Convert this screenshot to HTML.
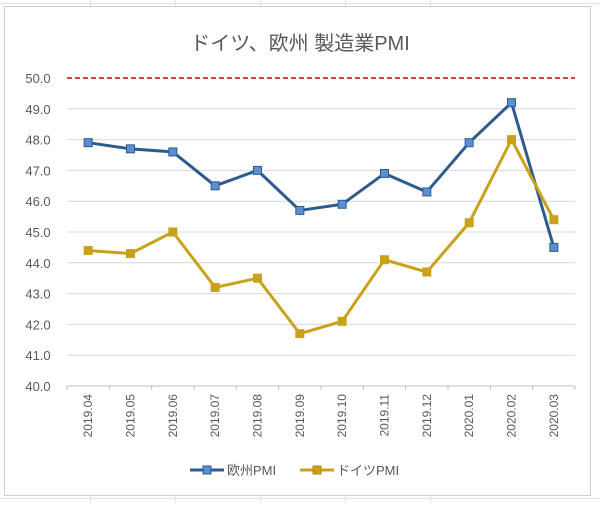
<!DOCTYPE html>
<html><head><meta charset="utf-8"><style>
body{margin:0;background:#fff;}
svg text{font-family:"Liberation Sans","Noto Sans CJK JP",sans-serif;}
</style></head><body>
<svg width="600" height="502" viewBox="0 0 600 502">
<g stroke="#d8e4ea" stroke-width="1">
<line x1="0" y1="3.5" x2="600" y2="3.5"/><line x1="0" y1="498.5" x2="600" y2="498.5"/>
<line x1="90.5" y1="0" x2="90.5" y2="6"/><line x1="175.5" y1="0" x2="175.5" y2="6"/><line x1="260.5" y1="0" x2="260.5" y2="6"/><line x1="345.5" y1="0" x2="345.5" y2="6"/><line x1="430.5" y1="0" x2="430.5" y2="6"/>
<line x1="90.5" y1="496" x2="90.5" y2="502"/><line x1="175.5" y1="496" x2="175.5" y2="502"/><line x1="260.5" y1="496" x2="260.5" y2="502"/><line x1="345.5" y1="496" x2="345.5" y2="502"/><line x1="430.5" y1="496" x2="430.5" y2="502"/>
</g>
<rect x="4.5" y="6.5" width="586" height="489" fill="#fff" stroke="#c9d3d8"/>
<text x="300" y="50" text-anchor="middle" font-size="20" fill="#595959">ドイツ、欧州 製造業PMI</text>
<g id="grid"></g><g id="yl"></g><g id="xl"></g><g id="series"></g>
<g font-size="13" fill="#595959">
<g><line x1="190" y1="470" x2="224" y2="470" stroke="#2e5b8e" stroke-width="3"/><rect x="203" y="466" width="8" height="8" fill="#5b8fcf" stroke="#2e5b8e"/><text x="227" y="475">欧州PMI</text></g>
<g><line x1="300" y1="470" x2="334" y2="470" stroke="#c9a21a" stroke-width="3"/><rect x="313" y="466" width="8" height="8" fill="#c9a21a" stroke="#b08a10"/><text x="337" y="475">ドイツPMI</text></g>
</g>
</svg>
<script>
const categories=["2019.04","2019.05","2019.06","2019.07","2019.08","2019.09","2019.10","2019.11","2019.12","2020.01","2020.02","2020.03"];
const euValues=[47.9,47.7,47.6,46.5,47.0,45.7,45.9,46.9,46.3,47.9,49.2,44.5];
const deValues=[44.4,44.3,45.0,43.2,43.5,41.7,42.1,44.1,43.7,45.3,48.0,45.4];
const yTicks=[40,41,42,43,44,45,46,47,48,49,50];
const threshold=[50];
const NS="http://www.w3.org/2000/svg";
const x0=67,x1=575,yTop=78,yBot=386,yMin=40,yMax=50;
const bw=(x1-x0)/categories.length;
const xs=i=>x0+bw*(i+0.5);
const ys=v=>yBot-(v-yMin)/(yMax-yMin)*(yBot-yTop);
function mk(t,a,p){const e=document.createElementNS(NS,t);for(const k in a)e.setAttribute(k,a[k]);p.appendChild(e);return e;}
const grid=document.getElementById('grid'),yl=document.getElementById('yl'),xl=document.getElementById('xl'),ser=document.getElementById('series');
yTicks.forEach(v=>{
 if(v<yMax){const l=mk('line',{x1:x0,x2:x1,y1:ys(v),y2:ys(v),stroke:v===yMin?'#bfbfbf':'#d9d9d9','stroke-width':1},grid);
 
 }
 const t=mk('text',{x:38,y:ys(v)+5,'text-anchor':'middle','font-size':13,fill:'#595959'},yl);t.textContent=v.toFixed(1);
 
 
});
threshold.forEach(v=>{const l=mk('line',{x1:x0,x2:x1,y1:ys(v),y2:ys(v),stroke:'#d9443a','stroke-width':2,'stroke-dasharray':'5,3'},grid);
 
 });
for(let i=0;i<=categories.length;i++){mk('line',{x1:x0+bw*i,x2:x0+bw*i,y1:yBot,y2:yBot+4,stroke:'#bfbfbf'},grid);}
categories.forEach((c,i)=>{const t=mk('text',{x:0,y:0,'text-anchor':'end','font-size':12,fill:'#595959',transform:`translate(${xs(i)+4},${yBot+8}) rotate(-90)`},xl);t.textContent=c;
 
 });
function draw(vals,stroke,fill,name){
 const g=mk('g',{},ser);
 
 
 const p=mk('polyline',{points:vals.map((v,i)=>xs(i)+','+ys(v)).join(' '),fill:'none',stroke:stroke,'stroke-width':3,'stroke-linejoin':'round'},g);
 
 
 vals.forEach((v,i)=>{const r=mk('rect',{x:xs(i)-4,y:ys(v)-4,width:8,height:8,fill:fill,stroke:stroke,'stroke-width':1},g);
 
 });
}
draw(euValues,'#2e5b8e','#5b8fcf','series-eu');
draw(deValues,'#c9a21a','#c9a21a','series-germany');
</script>
</body></html>
